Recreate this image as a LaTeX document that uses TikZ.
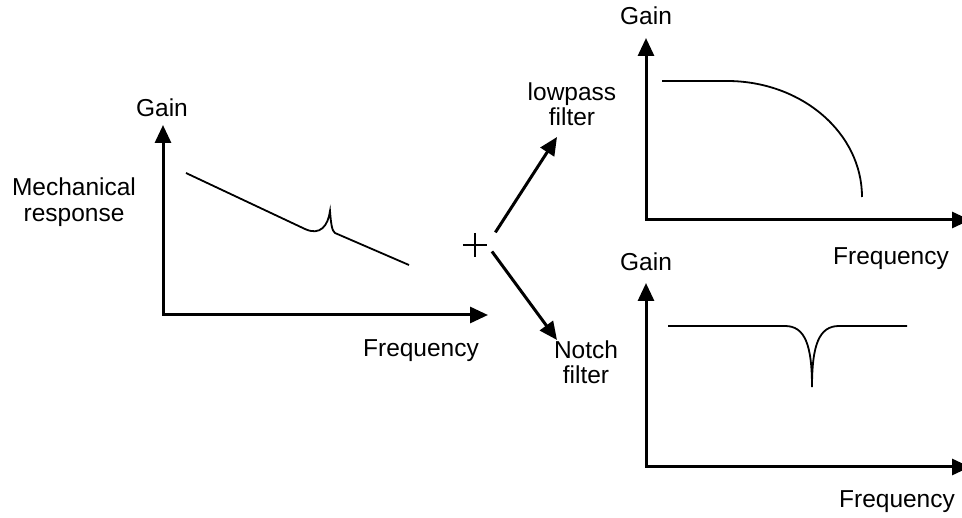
\documentclass[tikz,border=0pt]{standalone}
\usepackage{fontspec}
\setmainfont{Liberation Sans}
\usetikzlibrary{arrows.meta}
\begin{document}
\begin{tikzpicture}[x=1pt, y=-1pt,
                    every node/.style={font=\fontsize{24.5}{25.5}\selectfont, align=center, inner sep=0pt},
                    >={Triangle[length=18pt, width=16pt]},
                    axis/.style={<->, line width=3pt},
                    flow/.style={->, line width=3pt},
                    curve/.style={line width=1.8pt}]
\useasboundingbox (0,0) rectangle (962,518);
\coordinate (g1) at (163,125);
\coordinate (o1) at (163,315);
\coordinate (f1) at (488,315);
\coordinate (g2) at (646,38);
\coordinate (o2) at (646,220);
\coordinate (f2) at (970,220);
\coordinate (g3) at (646,283);
\coordinate (o3) at (646,467);
\coordinate (f3) at (970,467);
\node[anchor=base] (gain1) at (162,117) {Gain};
\node (mech) at (74,202) {Mechanical\\response};
\node[anchor=base] (freq1) at (421,357) {Frequency};
\node[anchor=base] (gain2) at (646,25) {Gain};
\node[anchor=base] (freq2) at (891,265) {Frequency};
\node[anchor=base] (gain3) at (646,271) {Gain};
\node[anchor=base] (freq3) at (897,508) {Frequency};
\node (lowpass) at (572,104) {lowpass\\filter};
\node (notch) at (586,362) {Notch\\filter};
\node[minimum size=24pt] (sum) at (475,245) {};
\coordinate (lptip) at (557,137);
\coordinate (nttip) at (557,340);
\draw[axis] (g1) -- (o1) -- (f1);
\draw[axis] (g2) -- (o2) -- (f2);
\draw[axis] (g3) -- (o3) -- (f3);
\draw[line width=2pt] (sum.west) -- (sum.east) (sum.north) -- (sum.south);
\draw[flow, shorten <=15pt] (sum.east) -- (lptip);
\draw[flow, shorten <=8pt] (sum.east) -- (nttip);
\draw[curve] (186,173) -- (305,229) .. controls (320,236) and (328,226) .. (330,211)
             .. controls (331,224) and (332,231) .. (335,233) -- (409,265);
\draw[curve] (662,81) -- (727,81) .. controls (801.6,81) and (862,132.9) .. (862,197);
\draw[curve] (668,326) -- (785,326) .. controls (805,326) and (812,345) .. (812,387)
             .. controls (812,345) and (819,326) .. (839,326) -- (907,326);
\end{tikzpicture}
\end{document}
